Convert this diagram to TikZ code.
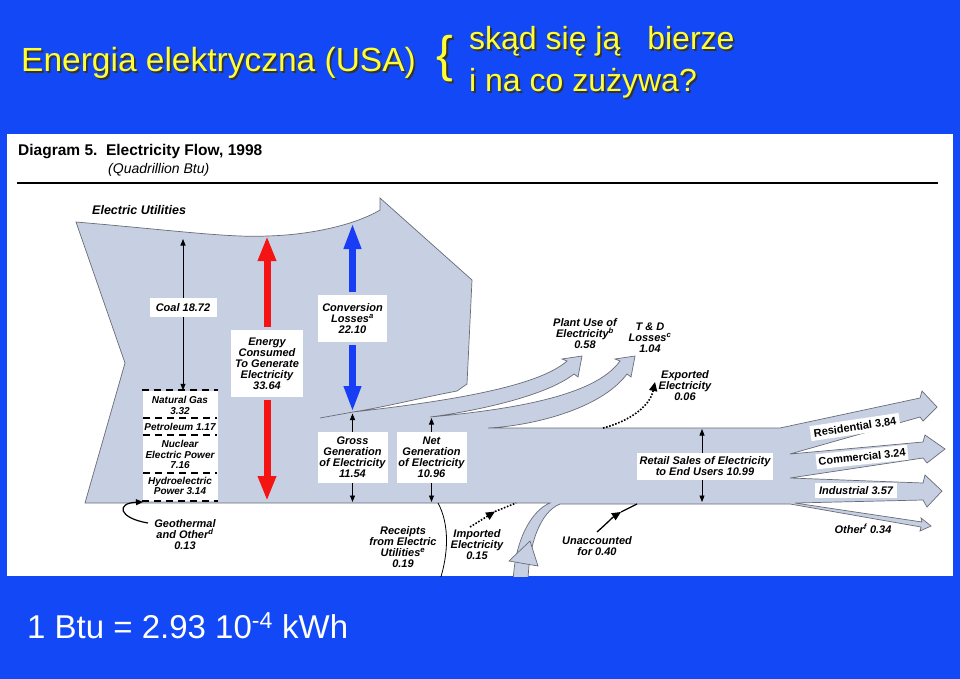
\documentclass[tikz,border=0pt]{standalone}
\usepackage{fontspec}
\setmainfont{Liberation Sans}
\usetikzlibrary{arrows.meta}
\definecolor{bgblue}{RGB}{18,72,246}
\definecolor{ttlyellow}{RGB}{255,255,51}
\definecolor{flowfill}{RGB}{198,208,226}
\definecolor{flowline}{RGB}{105,108,118}
\definecolor{redarr}{RGB}{245,20,20}
\definecolor{bluearr}{RGB}{25,60,245}
\newcommand\shd[1]{\makebox[0pt][l]{\kern1.8pt\raisebox{-1.8pt}{\textcolor{black!80}{#1}}}#1}
\begin{document}
\begin{tikzpicture}[x=1pt,y=-1pt,
  lab/.style={font=\fontsize{11}{11}\selectfont\bfseries\itshape, align=center, inner sep=0pt},
  labbox/.style={lab, fill=white},
  uplabbox/.style={labbox, font=\fontsize{11}{11}\selectfont\bfseries},
  smalllab/.style={font=\fontsize{10}{10.5}\selectfont\bfseries\itshape, align=center, inner sep=0pt},
  thinarr/.style={-{Triangle[width=5pt,length=6.5pt]}, line width=0.8pt},
  redthick/.style={draw=redarr, line width=7pt, -{Triangle[width=17pt,length=25pt]}},
  bluethick/.style={draw=bluearr, line width=7pt, -{Triangle[width=16pt,length=26pt]}},
  dotline/.style={line width=1.6pt, dash pattern=on 1.6pt off 1.6pt},
  headtip/.style={-{Triangle[width=8pt,length=9pt]}},
  dashsep/.style={line width=2pt, dash pattern=on 7pt off 5pt},
  flow/.style={fill=flowfill, draw=flowline, line width=0.7pt},
  title/.style={font=\fontsize{33.5}{34}\selectfont, inner sep=0pt, anchor=base west}
]
\useasboundingbox (0,0) rectangle (960,679);
\fill[bgblue] (0,0) rectangle (960,679);

% titles with shadow
\node[title, text=ttlyellow] (t1) at (21,72) {\shd{Energia elektryczna (USA)}};
\node[title, font=\fontsize{50}{50}\selectfont, text=ttlyellow] (br) at (436,72) {\shd{\{}};
\node[title, font=\fontsize{32}{34}\selectfont, text=ttlyellow] (t2) at (469,50) {\shd{skąd się ją\hspace{27pt}bierze}};
\node[title, font=\fontsize{32}{34}\selectfont, text=ttlyellow] (t3) at (469,92) {\shd{i na co zużywa?}};
\node[title, font=\fontsize{33}{34}\selectfont, text=white] (btu) at (27,638) {1 Btu = 2.93 10\textsuperscript{-4} kWh};

% white panel
\fill[white] (7,134) rectangle (953,576);

\begin{scope}
\clip (7,134) rectangle (953,576);
\node[anchor=west, inner sep=0pt, font=\fontsize{15.5}{16}\selectfont\bfseries] (dg) at (18,152) {Diagram 5.\ \ Electricity Flow, 1998};
\node[anchor=west, inner sep=0pt, font=\fontsize{14}{14}\selectfont\itshape] (qb) at (108,170) {(Quadrillion Btu)};
\draw[line width=1.8pt] (17,183) -- (938,183);
\node[anchor=west, inner sep=0pt, font=\fontsize{12.5}{13}\selectfont\bfseries\itshape] (eu) at (92,210) {Electric Utilities};

% main flow shape
\path[flow] (76,222) .. controls (170,230) and (230,238) .. (267,236)
 .. controls (310,235) and (355,225) .. (380,210)
 -- (380,198) -- (472,280) -- (467,384) -- (457,391)
 .. controls (420,398) and (385,407) .. (353,412)
 .. controls (460,400) and (540,385) .. (567,361)
 -- (562,359) -- (582,356) -- (578,377) -- (574,374)
 .. controls (545,397) and (470,412) .. (430,417)
 .. controls (530,408) and (598,392) .. (620,361)
 -- (615,359) -- (635,356) -- (631,377) -- (627,374)
 .. controls (600,410) and (530,426) .. (488,428)
 -- (780,428) -- (920,398) -- (922,391) -- (937,407) -- (923,421) -- (920,417)
 -- (790,454) -- (923,442) -- (925,435) -- (945,449) -- (927,463) -- (923,458)
 -- (790,478) -- (923,483) -- (925,475) -- (942,491) -- (927,507) -- (923,500)
 -- (795,503) -- (922,522) -- (921,518) -- (931,526) -- (920,531) -- (921,527)
 -- (790,504) -- (560,504)
 .. controls (540,512) and (528,545) .. (528,585)
 -- (513,585)
 .. controls (514,540) and (532,510) .. (550,503)
 -- (85,503) -- (125,363) -- cycle;
\draw[flowline, line width=0.7pt] (320,418) -- (353,412);
\path[flow] (530,541) -- (538,566) -- (509,561) -- cycle;

% receipts boundary line
\draw[line width=0.8pt] (438,503) .. controls (450,525) and (448,555) .. (440,580);

% Natural gas stack
\node[fill=white, minimum width=75pt, minimum height=110pt, inner sep=0pt] (stack) at (180,445.5) {};
\draw[dashsep] (stack.north west) -- (stack.north east);
\draw[dashsep] (143,418) -- (217,418);
\draw[dashsep] (143,435) -- (217,435);
\draw[dashsep] (143,473) -- (217,473);
\draw[dashsep] (stack.south west) -- (stack.south east);
\node[smalllab] (ng) at (180,405.5) {Natural Gas\\3.32};
\node[smalllab] (pet) at (180,427) {Petroleum 1.17};
\node[smalllab] (nuc) at (180,454.5) {Nuclear\\Electric Power\\7.16};
\node[smalllab] (hyd) at (180,486) {Hydroelectric\\Power 3.14};

% coal
\node[labbox, minimum width=67pt, minimum height=19pt] (coal) at (183,307.5) {Coal 18.72};
\coordinate (coalTop) at (183,239);
\draw[thinarr] (coal.north) -- (coalTop);
\draw[thinarr] (coal.south) -- (coal.south |- stack.north);

% energy consumed (red)
\node[labbox, minimum width=72pt, minimum height=67pt] (energy) at (267,363.5) {Energy\\Consumed\\To Generate\\Electricity\\33.64};
\coordinate (redTop) at (267,236);
\coordinate (redBot) at (267,501);
\draw[redthick] ([yshift=3pt]energy.north) -- (redTop);
\draw[redthick] ([yshift=-3pt]energy.south) -- (redBot);

% conversion losses (blue)
\node[labbox, minimum width=69pt, minimum height=47pt] (conv) at (352.5,318.5) {Conversion\\Losses\textsuperscript{a}\\22.10};
\coordinate (blueTop) at (352.5,223);
\coordinate (blueBot) at (352.5,412);
\draw[bluethick] ([yshift=3pt]conv.north) -- (blueTop);
\draw[bluethick] ([yshift=-3pt]conv.south) -- (blueBot);

% gross / net generation
\node[labbox, minimum width=70pt, minimum height=51pt] (gross) at (352.5,457.5) {Gross\\Generation\\of Electricity\\11.54};
\node[labbox, minimum width=70pt, minimum height=51pt] (net) at (431.5,457.5) {Net\\Generation\\of Electricity\\10.96};
\coordinate (grT) at (352.5,413.5);
\coordinate (grB) at (352.5,502);
\coordinate (ntT) at (431.5,418);
\coordinate (ntB) at (431.5,502);
\draw[thinarr] (gross.north) -- (grT);
\draw[thinarr] (gross.south) -- (grB);
\draw[thinarr] (net.north) -- (ntT);
\draw[thinarr] (net.south) -- (ntB);

% retail sales
\node[labbox, minimum width=136pt, minimum height=27pt] (retail) at (705,466.5) {Retail Sales of Electricity\\to End Users 10.99};
\coordinate (rtT) at (702,429);
\coordinate (rtB) at (702,502);
\draw[thinarr] (retail.north -| rtT) -- (rtT);
\draw[thinarr] (retail.south -| rtB) -- (rtB);

% sector labels
\node[uplabbox, rotate=8.5, minimum width=90pt, minimum height=15pt] (res) at (855,427) {Residential 3.84};
\node[uplabbox, rotate=6, minimum width=92pt, minimum height=15pt] (com) at (862,457) {Commercial 3.24};
\node[labbox, minimum width=82pt, minimum height=15pt] (ind) at (856,490.5) {Industrial 3.57};
\node[lab] (oth) at (863,529) {Other\textsuperscript{f} 0.34};

% plain labels
\node[lab] (plant) at (585,334) {Plant Use of\\Electricity\textsuperscript{b}\\0.58};
\node[lab] (td) at (650,338) {T \& D\\Losses\textsuperscript{c}\\1.04};
\node[lab] (exp) at (685,386) {Exported\\Electricity\\0.06};
\node[lab] (geo) at (185,535) {Geothermal\\and Other\textsuperscript{d}\\0.13};
\node[lab] (rec) at (403,547) {Receipts\\from Electric\\Utilities\textsuperscript{e}\\0.19};
\node[lab] (imp) at (477,545) {Imported\\Electricity\\0.15};
\node[lab] (una) at (597,546) {Unaccounted\\for 0.40};

% exported dotted arrow
\coordinate (exS) at (603,428);
\coordinate (exE) at (655,382);
\draw[dotline, headtip] (exS) .. controls (630,421) and (650,406) .. (exE);

% imported dotted arrow
\coordinate (imS) at (470,527);
\coordinate (imM) at (495,511.5);
\coordinate (imE) at (516,503);
\draw[dotline, headtip] (imS) -- (imM);
\draw[dotline] (imM) -- (imE);

% unaccounted arrow
\coordinate (uS) at (597,532);
\coordinate (uM) at (621,512);
\coordinate (uE) at (637,504);
\draw[line width=1.3pt, headtip] (uS) .. controls (605,525) and (613,517) .. (uM);
\draw[line width=1.3pt] (uM) -- (uE);

% geothermal arrow
\coordinate (gS) at (148,523);
\coordinate (gE) at (143,502);
\draw[line width=1.2pt, -{Triangle[width=6pt,length=7pt]}] (gS) .. controls (118,518) and (116,503) .. (gE);
\end{scope}
\end{tikzpicture}
\end{document}
